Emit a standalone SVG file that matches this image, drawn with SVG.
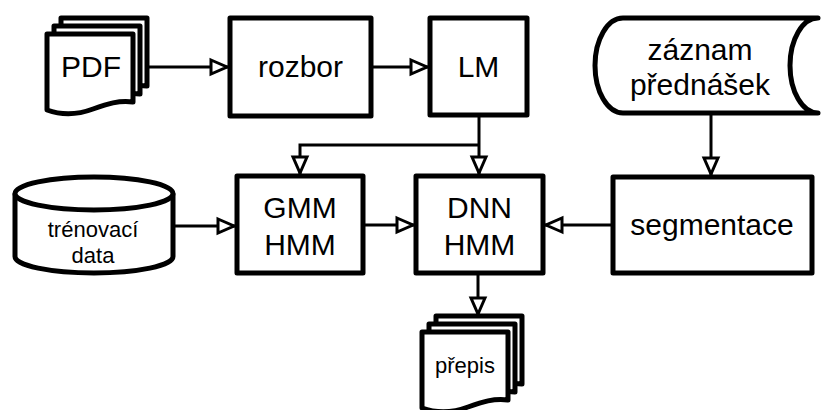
<svg xmlns="http://www.w3.org/2000/svg" xmlns:xlink="http://www.w3.org/1999/xlink" width="821" height="410" viewBox="0 0 821 410">
<style>
.node{fill:#fff;stroke:#000;stroke-width:5;stroke-linejoin:round}
.conn{fill:none;stroke:#000;stroke-width:3}
.big{font-family:"Liberation Sans",Arial,sans-serif;font-size:30px;text-anchor:middle;fill:#000}
.small{font-family:"Liberation Sans",Arial,sans-serif;font-size:22px;text-anchor:middle;fill:#000}
</style>
<defs>
<marker id="arr" markerUnits="userSpaceOnUse" viewBox="0 0 22 20" markerWidth="22" markerHeight="20" refX="19" refY="10" orient="auto">
<path d="M2,3 L18,10 L2,17 Z" fill="#fff" stroke="#000" stroke-width="3"/>
</marker>
<path id="doc" d="M0,0 H86 V68 C72,66 60,70 46,75 C30,81 14,81 0,76 Z"/>
</defs>
<rect width="821" height="410" fill="#fff"/>
<g id="connectors">
<path class="conn" d="M147,67 H228" marker-end="url(#arr)"/>
<path class="conn" d="M371,67 H428" marker-end="url(#arr)"/>
<path class="conn" d="M479,115 V174" marker-end="url(#arr)"/>
<path class="conn" d="M479,145 H300 V174" marker-end="url(#arr)"/>
<path class="conn" d="M173,226 H235" marker-end="url(#arr)"/>
<path class="conn" d="M363,225 H414" marker-end="url(#arr)"/>
<path class="conn" d="M613,225 H545" marker-end="url(#arr)"/>
<path class="conn" d="M711,113 V175" marker-end="url(#arr)"/>
<path class="conn" d="M478,273 V315" marker-end="url(#arr)"/>
</g>
<g id="pdf">
<use xlink:href="#doc" class="node" x="61" y="18"/>
<use xlink:href="#doc" class="node" x="54" y="26"/>
<use xlink:href="#doc" class="node" x="47" y="34"/>
<text class="big" x="91" y="77">PDF</text>
</g>
<g id="rozbor">
<rect class="node" x="230" y="18" width="141" height="98"/>
<text class="big" x="300.5" y="77">rozbor</text>
</g>
<g id="lm">
<rect class="node" x="430" y="18" width="97" height="97"/>
<text class="big" x="478.5" y="77">LM</text>
</g>
<g id="zaznam">
<path class="node" d="M623,18 H818 A28,47.5 0 0 0 818,113 H623 A28,47.5 0 0 1 623,18 Z"/>
<text class="big" x="700" y="60">záznam</text>
<text class="big" x="700" y="95">přednášek</text>
</g>
<g id="trenovaci-data">
<path class="node" d="M15,193.5 V256.5 A79,16.5 0 0 0 173,256.5 V193.5"/>
<ellipse class="node" cx="94" cy="193.5" rx="79" ry="16.5"/>
<text class="small" x="93" y="237">trénovací</text>
<text class="small" x="93" y="263">data</text>
</g>
<g id="gmm-hmm">
<rect class="node" x="237" y="176" width="126" height="97"/>
<text class="big" x="300" y="218">GMM</text>
<text class="big" x="300" y="255">HMM</text>
</g>
<g id="dnn-hmm">
<rect class="node" x="416" y="176" width="127" height="97"/>
<text class="big" x="479.5" y="218">DNN</text>
<text class="big" x="479.5" y="255">HMM</text>
</g>
<g id="segmentace">
<rect class="node" x="613" y="177" width="199" height="96"/>
<text class="big" x="712" y="235">segmentace</text>
</g>
<g id="prepis">
<use xlink:href="#doc" class="node" x="436" y="316"/>
<use xlink:href="#doc" class="node" x="429" y="324"/>
<use xlink:href="#doc" class="node" x="422" y="332"/>
<text class="small" x="465" y="373">přepis</text>
</g>
</svg>
